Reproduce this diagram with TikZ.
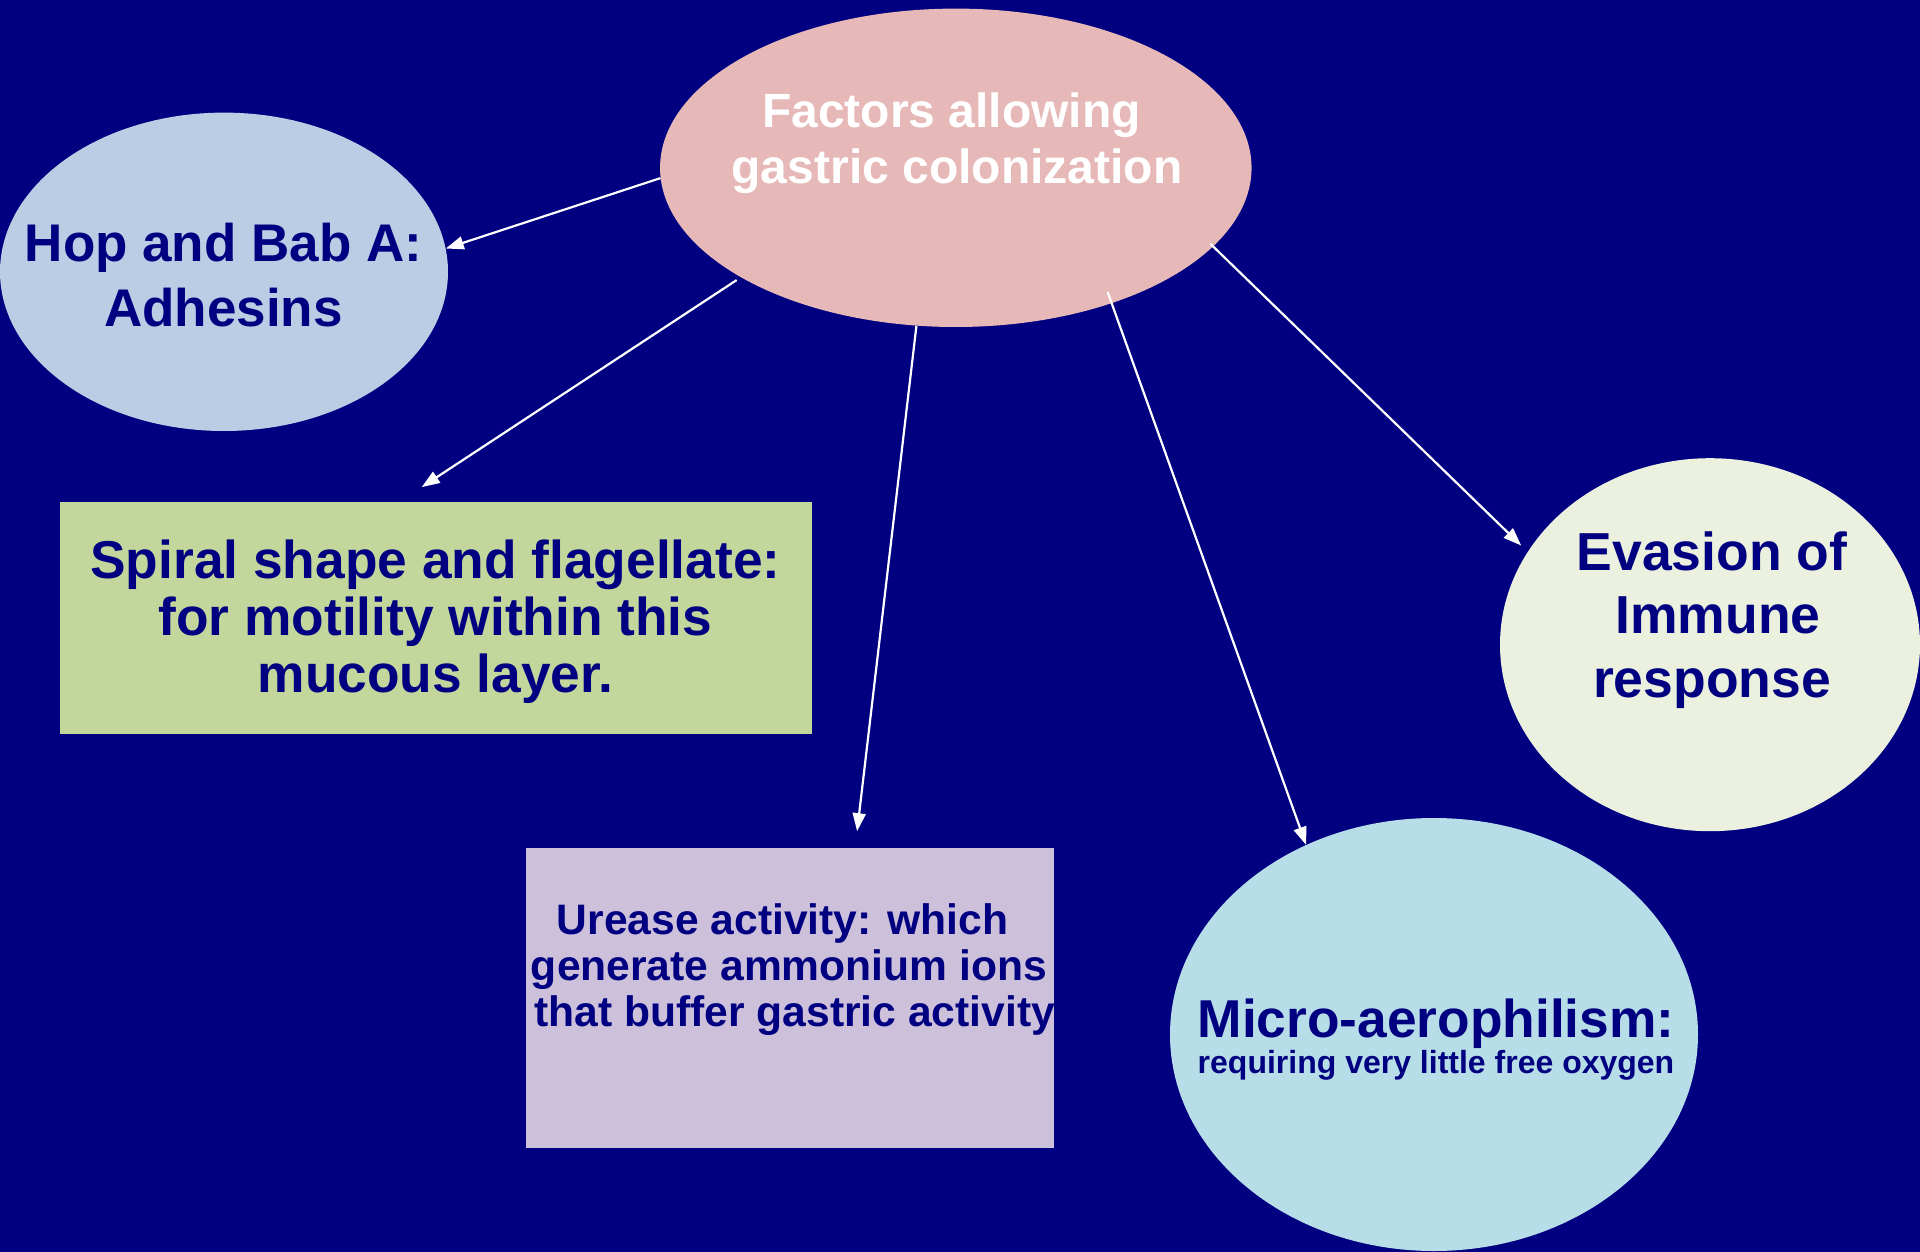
\documentclass[tikz,border=0pt]{standalone}
\usepackage{fontspec}
\setmainfont{Liberation Sans}
\usetikzlibrary{shapes.geometric,arrows.meta,calc}
\definecolor{bgnavy}{HTML}{000080}
\definecolor{facpink}{HTML}{E6B8B7}
\definecolor{hopblue}{HTML}{B9CDE5}
\definecolor{spiralgreen}{HTML}{C3D69B}
\definecolor{ureaselilac}{HTML}{CCC0DA}
\definecolor{microblue}{HTML}{B7DDE8}
\definecolor{evasioncream}{HTML}{EBF1DE}
\begin{document}
\begin{tikzpicture}[x=1pt,y=-1pt,
  blob/.style={ellipse, inner sep=0pt, draw=none},
  boxnode/.style={rectangle, inner sep=0pt, draw=none},
  txt/.style={anchor=base, inner sep=0pt, text=bgnavy},
  fs/.style={font=\fontsize{#1}{#1}\selectfont\bfseries},
  conn/.style={draw=white, line width=2.2pt, -{Triangle[length=18pt,width=13pt]}}
]
\fill[bgnavy] (0,0) rectangle (1920,1252);
\useasboundingbox (0,0) rectangle (1920,1252);

% shapes
\node[blob, fill=facpink, minimum width=591.5pt, minimum height=318.4pt] (fac) at (955.8,167.8) {};
\node[blob, fill=hopblue, minimum width=448pt, minimum height=318.4pt] (hop) at (224,271.8) {};
\node[boxnode, fill=spiralgreen, minimum width=751.8pt, minimum height=231.5pt] (spiral) at (435.9,617.75) {};
\node[boxnode, fill=ureaselilac, minimum width=527.8pt, minimum height=299.5pt] (urease) at (789.6,997.75) {};
\node[blob, fill=microblue, minimum width=528pt, minimum height=433pt] (micro) at (1434,1034.5) {};
\node[blob, fill=evasioncream, minimum width=420pt, minimum height=373pt] (evasion) at (1710,644.7) {};

% texts
\node[txt, fs=48, text=white] (fact1) at (951.5,127.3) {Factors allowing};
\node[txt, fs=48, text=white] (fact2) at (957,183.7) {gastric colonization};

\node[txt, fs=53] (hopt1) at (223.5,261.7) {Hop and Bab A:};
\node[txt, fs=53] (hopt2) at (223.5,326.5) {Adhesins};

\node[txt, fs=53.3] (spit1) at (435.5,578) {Spiral shape and flagellate:};
\node[txt, fs=53.3] (spit2) at (435.5,635.5) {for motility within this};
\node[txt, fs=53.3] (spit3) at (435.5,692) {mucous layer.};

\node[txt, fs=42.6] (uret1) at (782.5,934) {Urease activity: which};
\node[txt, fs=42.6] (uret2) at (789,980) {generate ammonium ions};
\node[txt, fs=42.6] (uret3) at (794.7,1026) {that buffer gastric activity};

\node[txt, fs=53.3] (mict1) at (1436,1037) {Micro-aerophilism:};
\node[txt, fs=32] (mict2) at (1436,1073.5) {requiring very little free oxygen};

\node[txt, fs=53.5] (evat1) at (1712,570) {Evasion of};
\node[txt, fs=53.5] (evat2) at (1718,633.5) {Immune};
\node[txt, fs=53.5] (evat3) at (1712,697) {response};

% connectors
\draw[conn] (fac.182) -- (hop.6);
\draw[conn, shorten <=5pt] (fac.207) -- ($(spiral.north)+(-14.2,-14.7)$);
\draw[conn] (fac.256) -- ($(urease.north)+(67.5,-16.6)$);
\draw[conn, shorten <=-12pt] (fac.319) -- (micro.124);
\draw[conn, shorten >=9pt, shorten <=-4pt] (fac.343) -- (evasion.153);
\end{tikzpicture}
\end{document}
